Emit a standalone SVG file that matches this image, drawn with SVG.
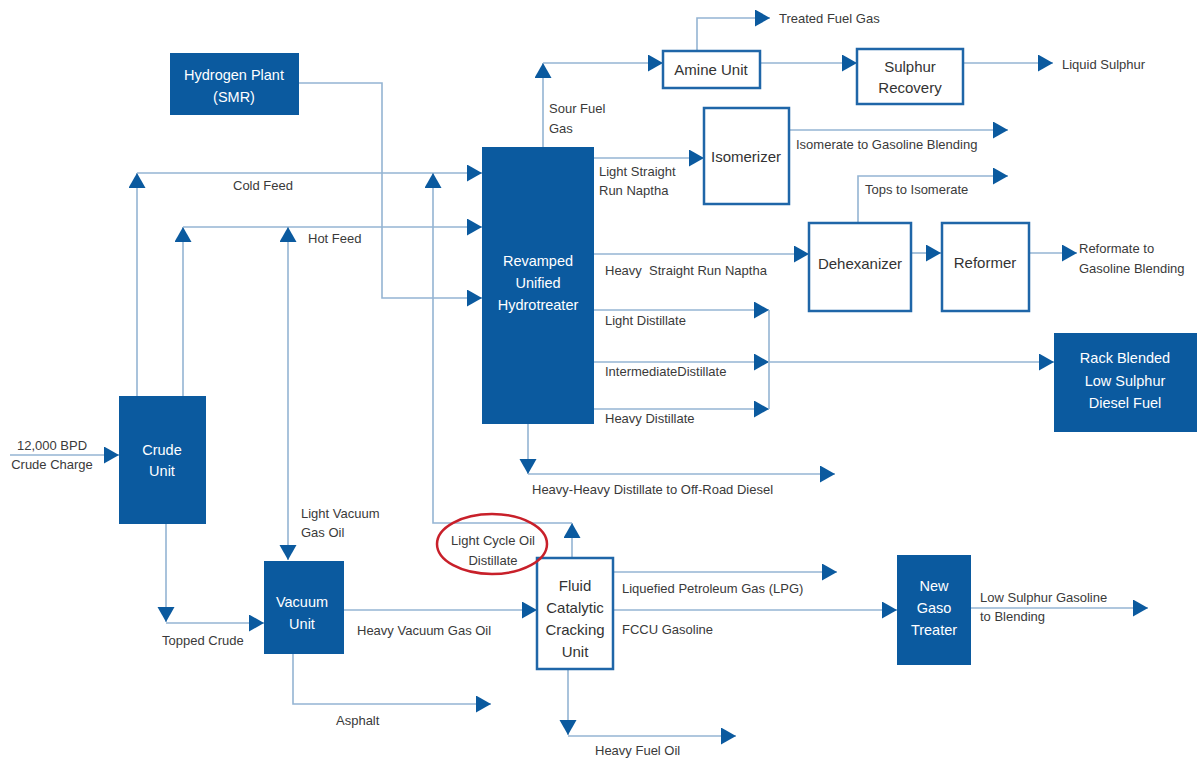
<svg xmlns="http://www.w3.org/2000/svg" width="1199" height="759" viewBox="0 0 1199 759">
<defs>
<marker id="ar" markerUnits="userSpaceOnUse" markerWidth="16" markerHeight="18" refX="15" refY="8.5" orient="auto" viewBox="0 0 16 18">
<path d="M0,0 L15,8.5 L0,17 Z" fill="#0b5a9f"/>
</marker>
<style>
.ln{fill:none;stroke:#94b4d3;stroke-width:1.6}
.ar{marker-end:url(#ar)}
.dk{fill:#0b5a9f}
.ol{fill:#fff;stroke:#1f66a8;stroke-width:2.5}
.wt{fill:#fff;font-family:"Liberation Sans",Arial,sans-serif;font-size:14.5px;text-anchor:middle}
.bt{fill:#333;font-family:"Liberation Sans",Arial,sans-serif;font-size:15px;text-anchor:middle}
.lb{fill:#3a3a3a;font-family:"Liberation Sans",Arial,sans-serif;font-size:13px}
.lbm{fill:#3a3a3a;font-family:"Liberation Sans",Arial,sans-serif;font-size:13px;text-anchor:middle}
</style>
</defs>
<rect width="1199" height="759" fill="#fff"/>

<g id="connectors">
<!-- hydrogen -->
<path class="ln ar" d="M299,83 H382 V298 H482"/>
<!-- cold feed -->
<path class="ln ar" d="M137,396 V173"/>
<path class="ln ar" d="M137,173 H482"/>
<!-- hot feed -->
<path class="ln ar" d="M183,396 V227"/>
<path class="ln ar" d="M183,227 H482"/>
<path class="ln ar" d="M288,390 V227"/>
<path class="ln ar" d="M288,390 V560"/>
<!-- light cycle oil -->
<path class="ln ar" d="M572,558 V523"/>
<path class="ln ar" d="M572,523 H433 V173"/>
<!-- sour fuel gas -->
<path class="ln ar" d="M543,147 V63"/>
<path class="ln ar" d="M543,63 H663"/>
<!-- treated fuel gas -->
<path class="ln ar" d="M697,51 V18 H770"/>
<path class="ln ar" d="M760,63 H857"/>
<path class="ln ar" d="M963,63 H1053"/>
<!-- LSRN -->
<path class="ln ar" d="M594,158 H704"/>
<path class="ln ar" d="M789,130 H1008"/>
<!-- HSRN -->
<path class="ln ar" d="M594,254 H809"/>
<path class="ln ar" d="M858,223 V176 H1008"/>
<path class="ln ar" d="M911,253 H941"/>
<path class="ln ar" d="M1029,253 H1077"/>
<!-- distillates -->
<path class="ln ar" d="M594,310 H769"/>
<path class="ln ar" d="M594,362 H769"/>
<path class="ln ar" d="M594,409 H769"/>
<path class="ln" d="M769,310 V409"/>
<path class="ln ar" d="M769,362 H1054"/>
<!-- heavy-heavy -->
<path class="ln ar" d="M528,424 V474"/>
<path class="ln ar" d="M528,474 H835"/>
<!-- crude -->
<path class="ln ar" d="M10,455 H119"/>
<path class="ln ar" d="M166,524 V622"/>
<path class="ln ar" d="M166,623 H264"/>
<!-- vacuum -->
<path class="ln ar" d="M344,610 H537"/>
<path class="ln ar" d="M293,654 V704 H491"/>
<!-- FCCU -->
<path class="ln ar" d="M613,572 H837"/>
<path class="ln ar" d="M613,610 H897"/>
<path class="ln ar" d="M568,669 V735"/>
<path class="ln ar" d="M568,736 H736"/>
<path class="ln ar" d="M971,608 H1148"/>
</g>

<g id="hydrogen-plant">
<rect class="dk" x="170" y="53" width="129" height="62"/>
<text class="wt" x="234" y="80">Hydrogen Plant</text>
<text class="wt" x="234" y="102">(SMR)</text>
</g>
<g id="hydrotreater">
<rect class="dk" x="482" y="147" width="112" height="277"/>
<text class="wt" x="538" y="266">Revamped</text>
<text class="wt" x="538" y="288">Unified</text>
<text class="wt" x="538" y="310">Hydrotreater</text>
</g>
<g id="amine-unit">
<rect class="ol" x="663" y="51" width="97" height="37"/>
<text class="bt" x="711" y="75">Amine Unit</text>
</g>
<g id="sulphur-recovery">
<rect class="ol" x="857" y="49" width="106" height="55"/>
<text class="bt" x="910" y="72">Sulphur</text>
<text class="bt" x="910" y="93">Recovery</text>
</g>
<g id="isomerizer">
<rect class="ol" x="704" y="108" width="85" height="96"/>
<text class="bt" x="746" y="162">Isomerizer</text>
</g>
<g id="dehexanizer">
<rect class="ol" x="809" y="223" width="102" height="88"/>
<text class="bt" x="860" y="269">Dehexanizer</text>
</g>
<g id="reformer">
<rect class="ol" x="942" y="223" width="87" height="88"/>
<text class="bt" x="985" y="268">Reformer</text>
</g>
<g id="rack-blended">
<rect class="dk" x="1054" y="333" width="143" height="99"/>
<text class="wt" x="1125" y="363">Rack Blended</text>
<text class="wt" x="1125" y="386">Low Sulphur</text>
<text class="wt" x="1125" y="408">Diesel Fuel</text>
</g>
<g id="crude-unit">
<rect class="dk" x="119" y="396" width="87" height="128"/>
<text class="wt" x="162" y="455">Crude</text>
<text class="wt" x="162" y="476">Unit</text>
</g>
<g id="vacuum-unit">
<rect class="dk" x="264" y="561" width="80" height="93"/>
<text class="wt" x="302" y="607">Vacuum</text>
<text class="wt" x="302" y="629">Unit</text>
</g>
<g id="fccu">
<rect class="ol" x="537" y="558" width="76" height="111"/>
<text class="bt" x="575" y="591">Fluid</text>
<text class="bt" x="575" y="613">Catalytic</text>
<text class="bt" x="575" y="635">Cracking</text>
<text class="bt" x="575" y="657">Unit</text>
</g>
<g id="gaso-treater">
<rect class="dk" x="897" y="555" width="74" height="110"/>
<text class="wt" x="934" y="591">New</text>
<text class="wt" x="934" y="613">Gaso</text>
<text class="wt" x="934" y="635">Treater</text>
</g>

<g id="labels">
<text class="lb" x="233" y="190">Cold Feed</text>
<text class="lb" x="308" y="243">Hot Feed</text>
<text class="lb" x="549" y="113">Sour Fuel</text>
<text class="lb" x="549" y="133">Gas</text>
<text class="lb" x="599" y="176">Light Straight</text>
<text class="lb" x="599" y="195">Run Naptha</text>
<text class="lb" x="779" y="23">Treated Fuel Gas</text>
<text class="lb" x="1062" y="69">Liquid Sulphur</text>
<text class="lb" x="796" y="149">Isomerate to Gasoline Blending</text>
<text class="lb" x="865" y="194">Tops to Isomerate</text>
<text class="lb" x="605" y="275" xml:space="preserve">Heavy  Straight Run Naptha</text>
<text class="lb" x="1079" y="253">Reformate to</text>
<text class="lb" x="1079" y="273">Gasoline Blending</text>
<text class="lb" x="605" y="325">Light Distillate</text>
<text class="lb" x="605" y="376">IntermediateDistillate</text>
<text class="lb" x="605" y="423">Heavy Distillate</text>
<text class="lb" x="532" y="494">Heavy-Heavy Distillate to Off-Road Diesel</text>
<text class="lbm" x="52" y="450">12,000 BPD</text>
<text class="lbm" x="52" y="469">Crude Charge</text>
<text class="lb" x="301" y="518">Light Vacuum</text>
<text class="lb" x="301" y="537">Gas Oil</text>
<text class="lb" x="162" y="645">Topped Crude</text>
<text class="lb" x="357" y="635">Heavy Vacuum Gas Oil</text>
<text class="lb" x="336" y="725">Asphalt</text>
<text class="lbm" x="493" y="545">Light Cycle Oil</text>
<text class="lbm" x="493" y="565">Distillate</text>
<text class="lb" x="622" y="593">Liquefied Petroleum Gas (LPG)</text>
<text class="lb" x="622" y="634">FCCU Gasoline</text>
<text class="lb" x="595" y="755">Heavy Fuel Oil</text>
<text class="lb" x="980" y="602">Low Sulphur Gasoline</text>
<text class="lb" x="980" y="621">to Blending</text>
</g>
<ellipse id="highlight" cx="492" cy="544" rx="55" ry="30" fill="none" stroke="#c8202a" stroke-width="2.5"/>
</svg>
